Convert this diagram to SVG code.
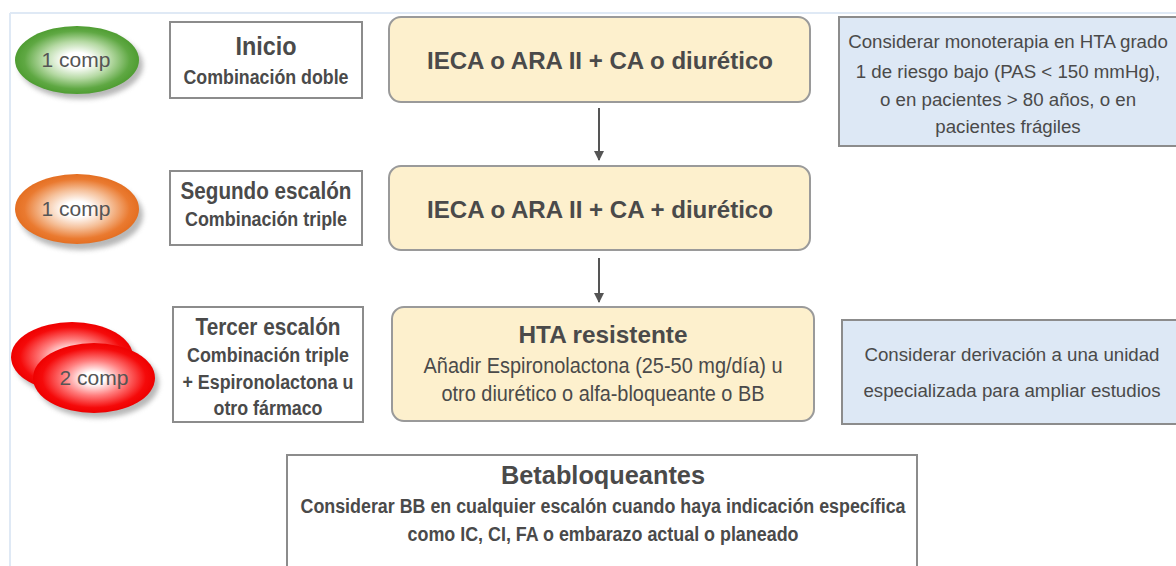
<svg xmlns="http://www.w3.org/2000/svg" width="1176" height="566" viewBox="0 0 1176 566">
<defs>
<style>
.bold{font-family:"Liberation Sans",Arial,sans-serif;font-weight:bold;fill:#4a4a4a;text-anchor:middle}
.reg{font-family:"Liberation Sans",Arial,sans-serif;fill:#4a4a4a;text-anchor:middle}
.note{font-family:"Liberation Sans",Arial,sans-serif;fill:#4a4a4a;text-anchor:middle;font-size:18.7px}
.step{fill:#ffffff;stroke:#8c8c8c;stroke-width:2}
.drug{fill:#fdf0cd;stroke:#9a9a9a;stroke-width:2}
.blue{fill:#dde8f5;stroke:#8c8c8c;stroke-width:2}
.comp{font-family:"Liberation Sans",Arial,sans-serif;fill:#555555;font-size:21px;text-anchor:middle}
.conn{stroke:#555555;stroke-width:2;fill:none}
</style>
<radialGradient id="gGreen" cx="0.5" cy="0.5" r="0.5">
<stop offset="0.22" stop-color="#ffffff"/><stop offset="0.55" stop-color="#b5d9a3"/><stop offset="0.85" stop-color="#5fa843"/><stop offset="1" stop-color="#4f9d32"/>
</radialGradient>
<radialGradient id="gOrange" cx="0.5" cy="0.5" r="0.5">
<stop offset="0.22" stop-color="#ffffff"/><stop offset="0.55" stop-color="#f5bf98"/><stop offset="0.85" stop-color="#ea7a30"/><stop offset="1" stop-color="#e46f22"/>
</radialGradient>
<radialGradient id="gRed" cx="0.5" cy="0.5" r="0.5">
<stop offset="0.18" stop-color="#ffffff"/><stop offset="0.5" stop-color="#ff7e7e"/><stop offset="0.85" stop-color="#f50a0a"/><stop offset="1" stop-color="#ee0000"/>
</radialGradient>
<filter id="sh" x="-20%" y="-20%" width="140%" height="150%">
<feGaussianBlur stdDeviation="2.5"/>
</filter>
<marker id="arr" viewBox="0 0 10 10" refX="9" refY="5" markerWidth="5" markerHeight="5" orient="auto" markerUnits="strokeWidth">
<path d="M0,0 L10,5 L0,10 z" fill="#555555"/>
</marker>
</defs>
<rect x="0" y="0" width="1176" height="566" fill="#ffffff"/>
<g id="frame">
<line x1="10" y1="13" x2="1176" y2="13" stroke="#dfe9f5" stroke-width="2"/>
<line x1="10" y1="13" x2="10" y2="566" stroke="#dfe9f5" stroke-width="2"/>
</g>

<g id="comp1">
<ellipse cx="81" cy="65" rx="62" ry="34" fill="#888888" opacity="0.6" filter="url(#sh)"/>
<ellipse cx="77" cy="60" rx="62" ry="34" fill="url(#gGreen)"/>
<text class="comp" x="76" y="67">1 comp</text>
</g>
<g id="comp2">
<ellipse cx="81" cy="215" rx="62" ry="35" fill="#888888" opacity="0.6" filter="url(#sh)"/>
<ellipse cx="77" cy="209" rx="62" ry="35" fill="url(#gOrange)"/>
<text class="comp" x="76" y="216">1 comp</text>
</g>
<g id="comp3">
<ellipse cx="76" cy="362" rx="61" ry="35" fill="#888888" opacity="0.6" filter="url(#sh)"/>
<ellipse cx="72" cy="357" rx="61" ry="35" fill="url(#gRed)"/>
<ellipse cx="98" cy="383" rx="61" ry="35" fill="#888888" opacity="0.6" filter="url(#sh)"/>
<ellipse cx="94" cy="378" rx="61" ry="35" fill="url(#gRed)"/>
<text class="comp" x="94" y="385">2 comp</text>
</g>

<g id="step1">
<rect class="step" x="170" y="22" width="192" height="76"/>
<text class="bold" x="266" y="55" font-size="25" textLength="61" lengthAdjust="spacingAndGlyphs">Inicio</text>
<text class="bold" x="266" y="84" font-size="20" textLength="165" lengthAdjust="spacingAndGlyphs">Combinación doble</text>
</g>
<g id="step2">
<rect class="step" x="170" y="171" width="192" height="74"/>
<text class="bold" x="266" y="199" font-size="23" textLength="171" lengthAdjust="spacingAndGlyphs">Segundo escalón</text>
<text class="bold" x="266" y="226" font-size="20" textLength="162" lengthAdjust="spacingAndGlyphs">Combinación triple</text>
</g>
<g id="step3">
<rect class="step" x="173" y="307" width="190" height="115"/>
<text class="bold" x="268" y="335" font-size="23" textLength="145" lengthAdjust="spacingAndGlyphs">Tercer escalón</text>
<text class="bold" x="268" y="362" font-size="20" textLength="162" lengthAdjust="spacingAndGlyphs">Combinación triple</text>
<text class="bold" x="268" y="389" font-size="20" textLength="171" lengthAdjust="spacingAndGlyphs">+ Espironolactona u</text>
<text class="bold" x="268" y="415" font-size="20" textLength="109" lengthAdjust="spacingAndGlyphs">otro fármaco</text>
</g>

<g id="drug1">
<rect class="drug" x="389" y="17" width="421" height="85" rx="12"/>
<text class="bold" x="600" y="69" font-size="24.5" textLength="346" lengthAdjust="spacingAndGlyphs">IECA o ARA II + CA o diurético</text>
</g>
<g id="drug2">
<rect class="drug" x="389" y="166" width="421" height="84" rx="12"/>
<text class="bold" x="600" y="218" font-size="24.5" textLength="346" lengthAdjust="spacingAndGlyphs">IECA o ARA II + CA + diurético</text>
</g>
<g id="drug3">
<rect class="drug" x="392" y="307" width="422" height="114" rx="12"/>
<text class="bold" x="603" y="343" font-size="24.5" textLength="169" lengthAdjust="spacingAndGlyphs">HTA resistente</text>
<text class="reg" x="603" y="373" font-size="22.5" textLength="359" lengthAdjust="spacingAndGlyphs">Añadir Espironolactona (25-50 mg/día) u</text>
<text class="reg" x="603" y="401" font-size="22.5" textLength="323" lengthAdjust="spacingAndGlyphs">otro diurético o alfa-bloqueante o BB</text>
</g>

<g id="note1">
<rect class="blue" x="839" y="17" width="345" height="129"/>
<text class="note" x="1008" y="48">Considerar monoterapia en HTA grado</text>
<text class="note" x="1008" y="78">1 de riesgo bajo (PAS &lt; 150 mmHg),</text>
<text class="note" x="1008" y="106">o en pacientes &gt; 80 años, o en</text>
<text class="note" x="1008" y="133">pacientes frágiles</text>
</g>
<g id="note2">
<rect class="blue" x="842" y="320" width="342" height="104"/>
<text class="note" x="1012" y="361">Considerar derivación a una unidad</text>
<text class="note" x="1012" y="397">especializada para ampliar estudios</text>
</g>

<g id="bb">
<rect class="step" x="287" y="455" width="630" height="120"/>
<text class="bold" x="603" y="484" font-size="25" textLength="204" lengthAdjust="spacingAndGlyphs">Betabloqueantes</text>
<text class="bold" x="603" y="513" font-size="20" textLength="605" lengthAdjust="spacingAndGlyphs">Considerar BB en cualquier escalón cuando haya indicación específica</text>
<text class="bold" x="603" y="541" font-size="20" textLength="391" lengthAdjust="spacingAndGlyphs">como IC, CI, FA o embarazo actual o planeado</text>
</g>

<g id="connectors">
<line class="conn" x1="599" y1="108" x2="599" y2="160" marker-end="url(#arr)"/>
<line class="conn" x1="599" y1="258" x2="599" y2="302" marker-end="url(#arr)"/>
</g>
</svg>
